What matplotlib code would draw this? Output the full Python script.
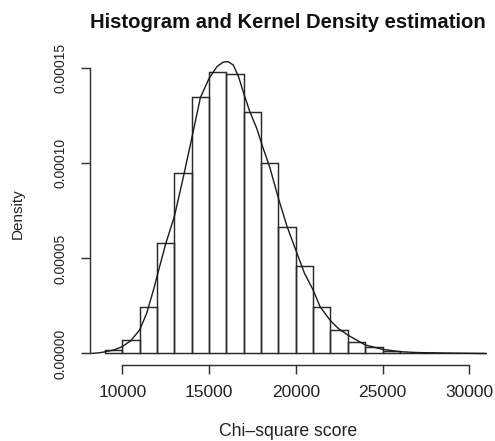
import matplotlib
matplotlib.use("Agg")
import matplotlib.pyplot as plt
import numpy as np

plt.rcParams['font.family'] = ['Liberation Sans', 'DejaVu Sans']

# Histogram (density) : bin left edges, width 1000
bin_edges = [9000, 10000, 11000, 12000, 13000, 14000, 15000, 16000, 17000, 18000,
             19000, 20000, 21000, 22000, 23000, 24000, 25000, 26000, 27000, 28000,
             29000, 30000, 31000]
densities = [0.18e-5, 0.70e-5, 2.44e-5, 5.83e-5, 9.51e-5, 13.49e-5, 14.83e-5, 14.72e-5,
             12.70e-5, 10.04e-5, 6.67e-5, 4.60e-5, 2.44e-5, 1.26e-5, 0.60e-5, 0.32e-5,
             0.13e-5, 0.05e-5, 0.03e-5, 0.02e-5, 0.01e-5, 0.005e-5]

# Kernel density estimate curve
kde_x = [8200, 8700, 9000, 9500, 10000, 10500, 11000, 11400, 11800, 12000, 12500,
         13000, 13500, 14000, 14500, 15000, 15450, 15800, 16100, 16400, 16700, 17000,
         17350, 17750, 18100, 18500, 19000, 19500, 20000, 20500, 21000, 21400, 22000,
         22450, 23000, 23500, 24000, 25000, 26000, 27000, 29000, 30900]
kde_y = [0.0, 0.04e-5, 0.09e-5, 0.18e-5, 0.36e-5, 0.68e-5, 1.24e-5, 2.10e-5, 3.35e-5,
         4.05e-5, 5.76e-5, 7.20e-5, 9.20e-5, 11.30e-5, 13.45e-5, 14.47e-5, 15.08e-5,
         15.32e-5, 15.35e-5, 15.17e-5, 14.56e-5, 13.68e-5, 12.72e-5, 11.84e-5, 10.85e-5,
         9.80e-5, 8.16e-5, 6.67e-5, 5.44e-5, 4.22e-5, 3.34e-5, 2.46e-5, 1.72e-5, 1.32e-5,
         0.97e-5, 0.71e-5, 0.45e-5, 0.22e-5, 0.095e-5, 0.05e-5, 0.02e-5, 0.0]

x_ticks = [10000, 15000, 20000, 25000, 30000]
x_tick_labels = ["10000", "15000", "20000", "25000", "30000"]
y_ticks = [0.0, 0.00005, 0.00010, 0.00015]
y_tick_labels = ["0.00000", "0.00005", "0.00010", "0.00015"]

W, H = 495, 441
fig = plt.figure(figsize=(W / 100, H / 100), dpi=100)
left_px, right_px, top_px, bot_px = 90, 486.65, 54.5, 365
ax = fig.add_axes([left_px / W, (H - bot_px) / H, (right_px - left_px) / W, (bot_px - top_px) / H])

widths = np.diff(bin_edges)
ax.bar(bin_edges[:-1], densities, width=widths, align='edge',
       facecolor='none', edgecolor='#2a2a2a', linewidth=1.05)
ax.plot(kde_x, kde_y, color='#1a1a1a', linewidth=1.0)

ax.set_xlim(8140, 31000)
ax.set_ylim(-6.05e-6, 1.5726e-4)

for s in ['top', 'right']:
    ax.spines[s].set_visible(False)
ax.spines['left'].set_bounds(0, 0.00015)
ax.spines['bottom'].set_bounds(10000, 30000)
for s in ['left', 'bottom']:
    ax.spines[s].set_linewidth(1.05)
    ax.spines[s].set_color('#333333')

ax.set_xticks(x_ticks)
ax.set_xticklabels(x_tick_labels, fontsize=12.5, color='#222222')
ax.set_yticks(y_ticks)
ax.set_yticklabels(y_tick_labels, fontsize=10, rotation=90, va='center', color='#222222')
ax.tick_params(axis='both', direction='out', length=6.5, width=1.05, color='#333333')
ax.tick_params(axis='x', pad=8)
ax.tick_params(axis='y', pad=10)

fig.text(287.5 / W, 1 - 22.5 / H, "Histogram and Kernel Density estimation",
         ha='center', va='center', fontsize=14.6, fontweight='bold', color='#111111')
fig.text(288 / W, 1 - 432 / H, "Chi\u2013square score", ha='center', va='center',
         fontsize=12.7, color='#222222')
fig.text(18 / W, 1 - 214 / H, "Density", ha='center', va='center', rotation=90,
         fontsize=11, color='#222222')

fig.savefig("out.png", dpi=100)
